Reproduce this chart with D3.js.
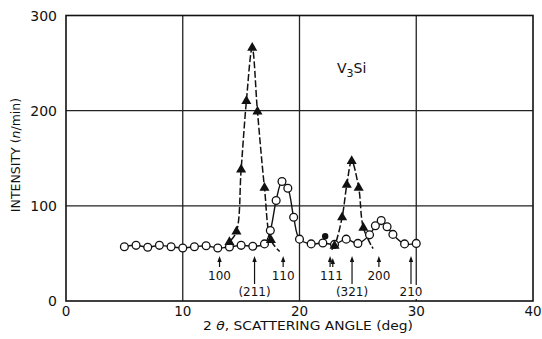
<!DOCTYPE html>
<html>
<head>
<meta charset="utf-8">
<script src="https://cdn.jsdelivr.net/npm/d3@7"></script>
<style>
  body { margin: 0; background: #fff; }
  text { font-family: "DejaVu Sans", sans-serif; fill: #111; }
</style>
</head>
<body>
<div id="chart"></div>
<script>
// V3Si neutron diffraction scan

// open circles: full scan
const scanAngle = [5, 6, 7, 8, 9, 10, 11, 12, 13, 14, 15, 16, 17, 17.5, 18, 18.5, 19, 19.5,
  20, 21, 22, 23, 24, 25, 26, 26.5, 27, 27.5, 28, 29, 30];
const scanCounts = [57, 58.5, 56.5, 58.5, 57, 55.7, 57, 58, 55.7, 56.8, 58.5, 57.5, 60, 74, 105.6, 125.5, 118.5, 88,
  65, 60, 61, 59.5, 65, 60.5, 69.5, 79, 84.5, 78, 70, 60, 60.5];

// filled triangles: (211) and (321) peaks, first/last point is the curve tail only
const peak211Angle = [13.6, 14.0, 14.6, 15.0, 15.45, 15.95, 16.4, 17.0, 17.55, 18.3];
const peak211Counts = [56, 62, 73, 138, 210, 266, 199, 119, 64, 52];
const peak321Angle = [22.75, 23.0, 23.65, 24.05, 24.47, 25.07, 25.47, 26.3];
const peak321Counts = [54, 58, 88, 122, 147, 119, 77, 55];

// single filled dot
const dotAngle = [22.2];
const dotCounts = [68];

// reflection markers
const reflLabels = ['100', '(211)', '110', '111', '(321)', '200', '210'];
const reflAngles = [[13.15], [16.15], [18.6], [22.62, 22.85], [24.5], [26.8], [29.55]];
const reflRow = [1, 2, 1, 1, 2, 1, 2];

const xTicks = [0, 10, 20, 30, 40];
const yTicks = [0, 100, 200, 300];

const width = 542, height = 339;
const svg = d3.select('#chart').append('svg')
  .attr('width', width).attr('height', height);

const x = d3.scaleLinear().domain([0, 40]).range([66, 533]);
const y = d3.scaleLinear().domain([0, 300]).range([301, 15.5]);

// grid
const grid = svg.append('g').attr('stroke', '#222').attr('stroke-width', 1.3);
grid.selectAll('line.h').data([100, 200]).enter().append('line')
  .attr('x1', x(0)).attr('x2', x(40)).attr('y1', d => y(d)).attr('y2', d => y(d));
grid.selectAll('line.v').data([10, 20, 30]).enter().append('line')
  .attr('x1', d => x(d)).attr('x2', d => x(d)).attr('y1', y(300)).attr('y2', y(0));
svg.append('rect')
  .attr('x', x(0)).attr('y', y(300)).attr('width', x(40) - x(0)).attr('height', y(0) - y(300))
  .attr('fill', 'none').attr('stroke', '#111').attr('stroke-width', 1.6);

// tick labels
svg.append('g').selectAll('text').data(yTicks).enter().append('text')
  .attr('x', 57).attr('y', d => y(d)).attr('dy', '0.36em')
  .attr('text-anchor', 'end').attr('font-size', 14).text(d => d);
svg.append('g').selectAll('text').data(xTicks).enter().append('text')
  .attr('x', d => x(d)).attr('y', 311.5).attr('dy', '0.36em')
  .attr('text-anchor', 'middle').attr('font-size', 13.5).text(d => d);

// axis titles
const xt = svg.append('text').attr('x', 203).attr('y', 330)
  .attr('font-size', 12).attr('textLength', 210).attr('lengthAdjust', 'spacingAndGlyphs');
xt.append('tspan').text('2 ');
xt.append('tspan').attr('font-style', 'italic').text('θ');
xt.append('tspan').text(', SCATTERING ANGLE (deg)');

const yt = svg.append('text').attr('transform', 'translate(20,155) rotate(-90)')
  .attr('text-anchor', 'middle').attr('font-size', 12.5);
yt.append('tspan').text('INTENSITY (');
yt.append('tspan').attr('font-style', 'italic').text('n');
yt.append('tspan').text('/min)');

const lab = svg.append('text').attr('x', 337).attr('y', 73).attr('font-size', 14);
lab.append('tspan').text('V');
lab.append('tspan').attr('font-size', 11).attr('dy', 4).text('3');
lab.append('tspan').attr('dy', -4).text('Si');

// reflection arrows
const refl = svg.append('g');
reflLabels.forEach((label, i) => {
  const cx = d3.mean(reflAngles[i], a => x(a));
  const tail = reflRow[i] === 1 ? 267 : 284;
  const ty = reflRow[i] === 1 ? 276 : 292;
  // white patch so the label breaks the grid
  refl.append('rect').attr('x', cx - 13).attr('y', ty - 7).attr('width', 26).attr('height', 14)
    .attr('fill', label === '210' ? '#fff' : 'none');
  reflAngles[i].forEach((a, k) => {
    const ax = x(a);
    const tip = 256 + k * 2;
    refl.append('line').attr('x1', ax).attr('x2', ax).attr('y1', tip + 4).attr('y2', tail)
      .attr('stroke', '#111').attr('stroke-width', 1.2);
    refl.append('path').attr('d', `M${ax},${tip}L${ax - 2.2},${tip + 6}L${ax + 2.2},${tip + 6}Z`)
      .attr('fill', '#111');
  });
  refl.append('text').attr('x', cx).attr('y', ty).attr('dy', '0.36em')
    .attr('text-anchor', 'middle').attr('font-size', 12).text(label);
});

// curves
const line = d3.line().curve(d3.curveCatmullRom.alpha(0.5)).x(d => x(d[0])).y(d => y(d[1]));

const scan = d3.zip(scanAngle, scanCounts);
const p211 = d3.zip(peak211Angle, peak211Counts);
const p321 = d3.zip(peak321Angle, peak321Counts);

svg.append('path').datum(scan).attr('d', line)
  .attr('fill', 'none').attr('stroke', '#111').attr('stroke-width', 1.4);
[p211, p321].forEach(p => {
  svg.append('path').datum(p).attr('d', line)
    .attr('fill', 'none').attr('stroke', '#111').attr('stroke-width', 1.5)
    .attr('stroke-dasharray', '7,2.5');
});

// markers
svg.append('g').selectAll('circle').data(scan).enter().append('circle')
  .attr('cx', d => x(d[0])).attr('cy', d => y(d[1])).attr('r', 3.9)
  .attr('fill', '#fff').attr('stroke', '#111').attr('stroke-width', 1.3);

const tri = d3.symbol().type(d3.symbolTriangle).size(44);
const triPts = p211.slice(1, -1).concat(p321.slice(1, -1));
svg.append('g').selectAll('path').data(triPts).enter().append('path')
  .attr('d', tri).attr('transform', d => `translate(${x(d[0])},${y(d[1])})`)
  .attr('fill', '#111');

svg.append('g').selectAll('circle').data(d3.zip(dotAngle, dotCounts)).enter().append('circle')
  .attr('cx', d => x(d[0])).attr('cy', d => y(d[1])).attr('r', 3.2).attr('fill', '#111');
</script>
</body>
</html>
